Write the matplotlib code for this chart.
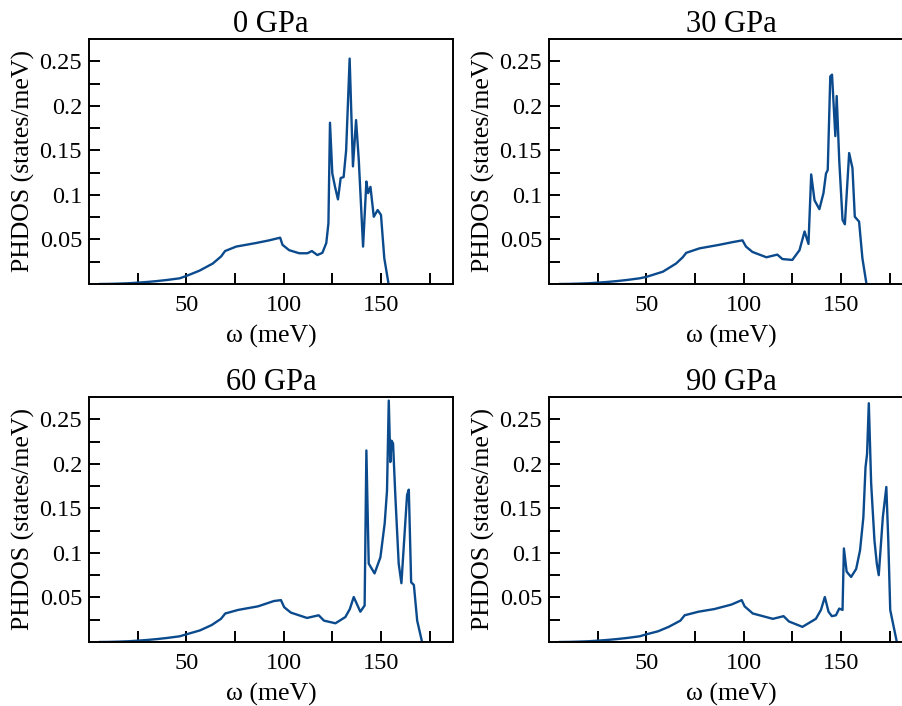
import matplotlib
matplotlib.use("Agg")
import matplotlib.pyplot as plt
from matplotlib.ticker import FixedLocator

plt.rcParams['font.family'] = ['Liberation Serif', 'DejaVu Serif']

titles = ["0 GPa", "30 GPa", "60 GPa", "90 GPa"]

w_0 = [5.6, 10, 15, 20, 25, 30, 35, 40, 46.6, 50, 56.8, 63.6, 67.9, 69.9, 75.6, 85.8, 92.6, 98.2, 99.4,
       102.8, 108, 112.2, 114.5, 117.3, 119.9, 121.9, 123, 123.8, 125, 126.4, 127.9, 129.3, 130.8,
       132.1, 133.9, 135.6, 137.2, 138.6, 140.8, 142.5, 143.4, 144.6, 146.3, 148.3, 150, 151.7, 153.9]
d_0 = [0, 0.0001, 0.0004, 0.0008, 0.0015, 0.0023, 0.0033, 0.0045, 0.0064, 0.009, 0.015, 0.023, 0.031,
       0.037, 0.042, 0.046, 0.049, 0.052, 0.044, 0.038, 0.0345, 0.0345, 0.037, 0.0325, 0.035, 0.046,
       0.068, 0.181, 0.124, 0.109, 0.095, 0.119, 0.120, 0.150, 0.253, 0.132, 0.184, 0.139, 0.042,
       0.115, 0.102, 0.109, 0.0755, 0.083, 0.0775, 0.029, 0.0]

w_30 = [5.6, 10, 15, 20, 25, 30, 35, 40, 46.6, 50, 58.5, 65.3, 68.7, 70.5, 77.3, 87.5, 94.3, 99.4, 101.2,
        104.5, 111.7, 117.3, 119.9, 125, 128.7, 131.3, 133.3, 134.7, 136.4, 138.9, 141, 142.3, 143.2,
        144.5, 145.4, 147.1, 147.8, 149.1, 150.8, 152, 154.2, 155.9, 157.1, 159.3, 161, 163.1]
d_30 = [0, 0.0001, 0.0004, 0.0008, 0.0015, 0.0023, 0.0033, 0.0045, 0.0064, 0.008, 0.0138, 0.023, 0.030,
        0.035, 0.040, 0.044, 0.047, 0.049, 0.042, 0.036, 0.030, 0.033, 0.028, 0.027, 0.038, 0.059,
        0.045, 0.123, 0.094, 0.084, 0.102, 0.124, 0.128, 0.233, 0.235, 0.166, 0.211, 0.139, 0.072,
        0.067, 0.147, 0.130, 0.0755, 0.070, 0.029, 0.0]

w_60 = [5.6, 10, 15, 20, 25, 30, 35, 40, 46.6, 50, 57, 63, 67.8, 70, 76.6, 86.8, 95, 98.6, 100.3, 103.7,
        112, 118, 120.7, 126.6, 131.7, 134, 136, 139.4, 141.6, 142.5, 143.7, 146.7, 149.7, 151.9,
        153.1, 154, 154.8, 155.4, 156.2, 157.4, 159.1, 160.5, 161.7, 163.4, 164.3, 165.5, 166.9,
        168.6, 171.1]
d_60 = [0, 0.0001, 0.0004, 0.0008, 0.0015, 0.0023, 0.0033, 0.0045, 0.0064, 0.0086, 0.013, 0.019, 0.026,
        0.032, 0.036, 0.040, 0.046, 0.047, 0.039, 0.033, 0.027, 0.030, 0.024, 0.021, 0.028, 0.037,
        0.0505, 0.034, 0.041, 0.215, 0.088, 0.077, 0.095, 0.133, 0.170, 0.271, 0.202, 0.226, 0.223,
        0.163, 0.088, 0.066, 0.107, 0.165, 0.171, 0.067, 0.064, 0.024, 0.0]

w_90 = [5.6, 10, 15, 20, 25, 30, 35, 40, 46.6, 50, 56, 61.5, 67.5, 69.7, 76.8, 85, 93.7, 99, 100.5, 104.7,
        115, 120.5, 123.3, 130.2, 137.1, 139.7, 141.7, 143.6, 145.3, 147.4, 149.1, 150.8, 151.5,
        152.9, 155.2, 157.8, 159.8, 161.5, 162.6, 163.4, 164.3, 165.5, 167.2, 168.4, 169.4, 171.5,
        173.3, 174.3, 175.3, 176.7, 178.7]
d_90 = [0, 0.0001, 0.0004, 0.0008, 0.0015, 0.0023, 0.0033, 0.0045, 0.0064, 0.0086, 0.012, 0.017,
        0.024, 0.030, 0.034, 0.037, 0.042, 0.047, 0.040, 0.032, 0.026, 0.029, 0.023, 0.017, 0.026,
        0.036, 0.0505, 0.034, 0.029, 0.030, 0.0375, 0.036, 0.105, 0.079, 0.073, 0.082, 0.103, 0.140,
        0.196, 0.211, 0.268, 0.178, 0.114, 0.088, 0.075, 0.140, 0.174, 0.114, 0.036, 0.021, 0.0]

series = [(w_0, d_0), (w_30, d_30), (w_60, d_60), (w_90, d_90)]

x_major = [50, 100, 150]
x_minor = [25, 75, 125, 175]
y_major = [0.05, 0.1, 0.15, 0.2, 0.25]
y_minor = [0.025, 0.075, 0.125, 0.175, 0.225]
y_labels = ["0.05", "0.1", "0.15", "0.2", "0.25"]

fig = plt.figure(figsize=(9.02, 7.06), dpi=100)
W, H = 902, 706
positions = [(89, 39), (549, 39), (89, 397), (549, 397)]
aw, ah = 364, 245
color = "#0b4a8c"

for i, ((px, py), title, (w, d)) in enumerate(zip(positions, titles, series)):
    ax = fig.add_axes([px / W, (H - py - ah) / H, aw / W, ah / H])
    ax.plot(w, d, color=color, lw=1.7, solid_joinstyle='round')
    ax.set_xlim(0, 187)
    ax.set_ylim(0, 0.275)
    ax.xaxis.set_major_locator(FixedLocator(x_major))
    ax.xaxis.set_minor_locator(FixedLocator(x_minor))
    ax.yaxis.set_major_locator(FixedLocator(y_major))
    ax.yaxis.set_minor_locator(FixedLocator(y_minor))
    ax.set_yticklabels(y_labels)
    ax.tick_params(which='both', direction='in', length=8, width=1.4, labelsize=17.5,
                   top=False, right=False)
    ax.tick_params(axis='x', pad=8)
    ax.tick_params(axis='y', pad=5)
    for s in ax.spines.values():
        s.set_linewidth(1.4)
    if i % 2 == 1:
        ax.spines['right'].set_visible(False)
    ax.set_title(title, fontsize=22, pad=3)
    ax.set_xlabel("ω (meV)", fontsize=18.5, labelpad=6)
    ax.set_ylabel("PHDOS (states/meV)", fontsize=18.5, labelpad=3)

fig.savefig("out.png", dpi=100)
